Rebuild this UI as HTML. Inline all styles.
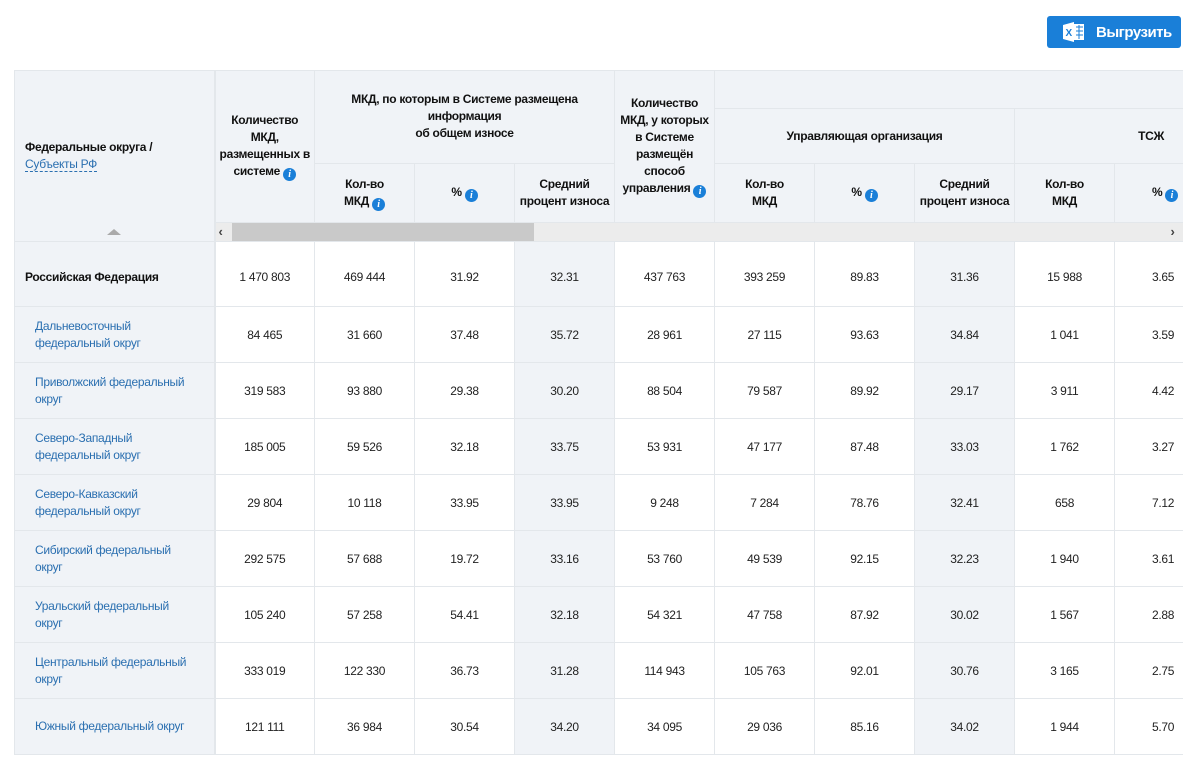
<!DOCTYPE html>
<html><head><meta charset="utf-8">
<style>
body{margin:0;background:#fff;font-family:"Liberation Sans",Arial,sans-serif;width:1193px;height:760px;overflow:hidden;position:relative}
.btn{position:absolute;left:1047px;top:16px;width:134px;height:32px;background:#1a7fd8;border-radius:3px;color:#fff;font-weight:bold;font-size:15px;letter-spacing:-0.5px}
.btn span{position:absolute;left:49px;top:8px}
.xl{position:absolute;left:16px;top:6px;width:22px;height:20px}
.wrap{position:absolute;left:14px;top:70px;width:1169px;overflow:hidden}
table{border-collapse:collapse;table-layout:fixed;width:1200px}
td{border:1px solid #e3e7eb;text-align:center;font-size:12px;color:#222;padding:0;letter-spacing:-0.3px}
thead td{background:#f0f3f7;font-weight:bold;line-height:17px;color:#111;padding:0 5px}
thead td.np{padding:0}
.l{text-align:left;background:#f0f3f7;border-right:2px solid #e3e7eb}
.sh{background:#f0f3f7}
.lk{color:#2a6fb0;padding-left:20px;line-height:17px}
.i{display:inline-block;width:13px;height:13px;border-radius:50%;background:#1a7fd8;color:#fff;font:italic bold 10px/13px "Liberation Serif",serif;text-align:center;vertical-align:-2px;margin-left:3px}
thead td.sb{background:#ececec;position:relative;height:18px;border:none;padding:0}
</style></head><body>
<div class="btn"><svg class="xl" viewBox="0 0 22 20"><rect x="8" y="2" width="13" height="16" fill="#fff"/><path d="M0 3L11 0V20L0 17Z" fill="#fff"/><text x="2.5" y="14" font-size="10" fill="#1a7fd8" font-family="Liberation Sans">X</text><g stroke="#1a7fd8" stroke-width="1"><line x1="13" y1="5" x2="20" y2="5"/><line x1="13" y1="9" x2="20" y2="9"/><line x1="13" y1="13" x2="20" y2="13"/><line x1="16" y1="3" x2="16" y2="17"/></g></svg><span>Выгрузить</span></div>
<div class="wrap"><table>
<colgroup><col style="width:200px"><col style="width:100px"><col style="width:100px"><col style="width:100px"><col style="width:100px"><col style="width:100px"><col style="width:100px"><col style="width:100px"><col style="width:100px"><col style="width:100px"><col style="width:100px"></colgroup>
<thead>
<tr style="height:38px">
<td rowspan="4" class="l" style="padding-left:10px;position:relative">Федеральные округа /<br><span style="font-weight:normal;color:#2a6fb0;border-bottom:1px dashed #2a6fb0">Субъекты РФ</span><div style="position:absolute;left:92px;bottom:6px;width:0;height:0;border-left:7px solid transparent;border-right:7px solid transparent;border-bottom:6px solid #aaa"></div></td>
<td rowspan="3" style="padding:0 3px">Количество<br>МКД,<br>размещенных в системе<span class="i">i</span></td>
<td rowspan="2" colspan="3" style="vertical-align:top;padding-top:20px">МКД, по которым в Системе размещена информация<br>об общем износе</td>
<td rowspan="3" style="padding:0 2px">Количество МКД, у которых в Системе размещён способ управления<span class="i">i</span></td>
<td colspan="5"></td>
</tr>
<tr style="height:55px"><td colspan="3">Управляющая организация</td><td colspan="2" style="text-align:right;padding-right:50px">ТСЖ</td></tr>
<tr style="height:59px"><td>Кол-во<br>МКД<span class="i">i</span></td><td>%<span class="i">i</span></td><td class="np">Средний<br>процент износа</td><td>Кол-во<br>МКД</td><td>%<span class="i">i</span></td><td class="np">Средний<br>процент износа</td><td>Кол-во<br>МКД</td><td style="text-align:left;padding-left:37px">%<span class="i">i</span></td></tr>
<tr><td colspan="10" class="sb"><div style="position:absolute;left:16px;top:0;width:302px;height:18px;background:#c9c9c9"></div><span style="position:absolute;left:3px;top:0;font-size:13px;line-height:18px;color:#444">&#8249;</span><span style="position:absolute;left:955px;top:0;font-size:13px;line-height:18px;color:#444">&#8250;</span></td></tr>
</thead>
<tbody>
<tr style="height:65px"><td class="l" style="padding-left:10px;font-weight:bold;color:#111;padding-top:6px">Российская Федерация</td><td style="padding-top:6px">1 470 803</td><td style="padding-top:6px">469 444</td><td style="padding-top:6px">31.92</td><td class="sh" style="padding-top:6px">32.31</td><td style="padding-top:6px">437 763</td><td style="padding-top:6px">393 259</td><td style="padding-top:6px">89.83</td><td class="sh" style="padding-top:6px">31.36</td><td style="padding-top:6px">15 988</td><td style="text-align:left;padding-left:37px;padding-top:6px">3.65</td></tr>
<tr style="height:56px"><td class="l lk">Дальневосточный<br>федеральный округ</td><td>84 465</td><td>31 660</td><td>37.48</td><td class="sh">35.72</td><td>28 961</td><td>27 115</td><td>93.63</td><td class="sh">34.84</td><td>1 041</td><td style="text-align:left;padding-left:37px">3.59</td></tr>
<tr style="height:56px"><td class="l lk">Приволжский федеральный<br>округ</td><td>319 583</td><td>93 880</td><td>29.38</td><td class="sh">30.20</td><td>88 504</td><td>79 587</td><td>89.92</td><td class="sh">29.17</td><td>3 911</td><td style="text-align:left;padding-left:37px">4.42</td></tr>
<tr style="height:56px"><td class="l lk">Северо-Западный<br>федеральный округ</td><td>185 005</td><td>59 526</td><td>32.18</td><td class="sh">33.75</td><td>53 931</td><td>47 177</td><td>87.48</td><td class="sh">33.03</td><td>1 762</td><td style="text-align:left;padding-left:37px">3.27</td></tr>
<tr style="height:56px"><td class="l lk">Северо-Кавказский<br>федеральный округ</td><td>29 804</td><td>10 118</td><td>33.95</td><td class="sh">33.95</td><td>9 248</td><td>7 284</td><td>78.76</td><td class="sh">32.41</td><td>658</td><td style="text-align:left;padding-left:37px">7.12</td></tr>
<tr style="height:56px"><td class="l lk">Сибирский федеральный<br>округ</td><td>292 575</td><td>57 688</td><td>19.72</td><td class="sh">33.16</td><td>53 760</td><td>49 539</td><td>92.15</td><td class="sh">32.23</td><td>1 940</td><td style="text-align:left;padding-left:37px">3.61</td></tr>
<tr style="height:56px"><td class="l lk">Уральский федеральный<br>округ</td><td>105 240</td><td>57 258</td><td>54.41</td><td class="sh">32.18</td><td>54 321</td><td>47 758</td><td>87.92</td><td class="sh">30.02</td><td>1 567</td><td style="text-align:left;padding-left:37px">2.88</td></tr>
<tr style="height:56px"><td class="l lk">Центральный федеральный<br>округ</td><td>333 019</td><td>122 330</td><td>36.73</td><td class="sh">31.28</td><td>114 943</td><td>105 763</td><td>92.01</td><td class="sh">30.76</td><td>3 165</td><td style="text-align:left;padding-left:37px">2.75</td></tr>
<tr style="height:56px"><td class="l lk">Южный федеральный округ</td><td>121 111</td><td>36 984</td><td>30.54</td><td class="sh">34.20</td><td>34 095</td><td>29 036</td><td>85.16</td><td class="sh">34.02</td><td>1 944</td><td style="text-align:left;padding-left:37px">5.70</td></tr>
</tbody></table></div>
</body></html>
